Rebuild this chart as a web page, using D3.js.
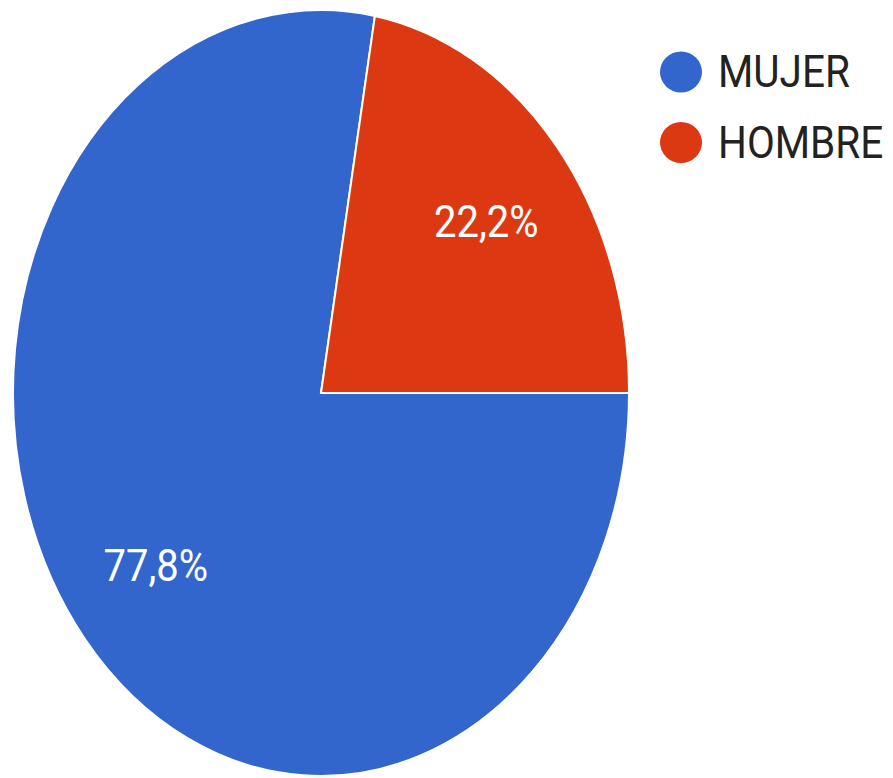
<!DOCTYPE html>
<html>
<head>
<meta charset="utf-8">
<script src="https://cdn.jsdelivr.net/npm/d3@7"></script>
<style>
  html, body { margin: 0; padding: 0; background: #fff; }
  svg { display: block; }
</style>
</head>
<body>
<svg id="chart" width="893" height="778"></svg>
<script>
// data
const categories = ["MUJER", "HOMBRE"];
const values = [77.8, 22.2];
const labels = ["77,8%", "22,2%"];
const colors = ["#3366cc", "#dc3912"];

const svg = d3.select("#chart");
const cx = 321, cy = 393;
const rx = 308, ry = 383;
const sy = ry / rx; // the picture is stretched vertically

const slices = categories.map((c, i) => ({name: c, value: values[i], label: labels[i], color: colors[i]}));

const pie = d3.pie()
    .sort(null)
    .value(d => d.value)
    .startAngle(Math.PI / 2)
    .endAngle(Math.PI / 2 + 2 * Math.PI);

const arc = d3.arc().innerRadius(0).outerRadius(rx);
const labelArc = d3.arc().innerRadius(rx * 0.7).outerRadius(rx * 0.7);

const arcs = pie(slices);

const g = svg.append("g")
    .attr("transform", `translate(${cx},${cy}) scale(1,${sy})`);

g.selectAll("path")
  .data(arcs)
  .join("path")
    .attr("d", arc)
    .attr("fill", d => d.data.color)
    .attr("stroke", "#fff")
    .attr("stroke-width", 2)
    .attr("vector-effect", "non-scaling-stroke");

// percentage labels, placed outside the scaled group so the text is not over-stretched
svg.append("g")
  .selectAll("text")
  .data(arcs)
  .join("text")
    .attr("transform", d => {
      const [x, y] = labelArc.centroid(d);
      return `translate(${cx + x},${cy + y * sy}) scale(1,1.13)`;
    })
    .attr("text-anchor", "middle")
    .attr("dy", "0.36em")
    .attr("font-family", "Roboto, 'Liberation Sans', Arial, sans-serif")
    .attr("font-size", 40)
    .attr("fill", "#fff")
    .text(d => d.data.label);

// legend
const legend = svg.append("g")
    .attr("transform", "translate(681,72)");

const item = legend.selectAll("g")
  .data(slices)
  .join("g")
    .attr("transform", (d, i) => `translate(0,${i * 70.5})`);

item.append("ellipse")
    .attr("rx", 21)
    .attr("ry", 20.5)
    .attr("fill", d => d.color);

item.append("text")
    .attr("x", 37)
    .attr("transform", "scale(1,1.1)")
    .attr("y", 15 / 1.1)
    .attr("font-family", "Roboto, 'Liberation Sans', Arial, sans-serif")
    .attr("font-size", 40.5)
    .attr("fill", "#222")
    .text(d => d.name);
</script>
</body>
</html>
